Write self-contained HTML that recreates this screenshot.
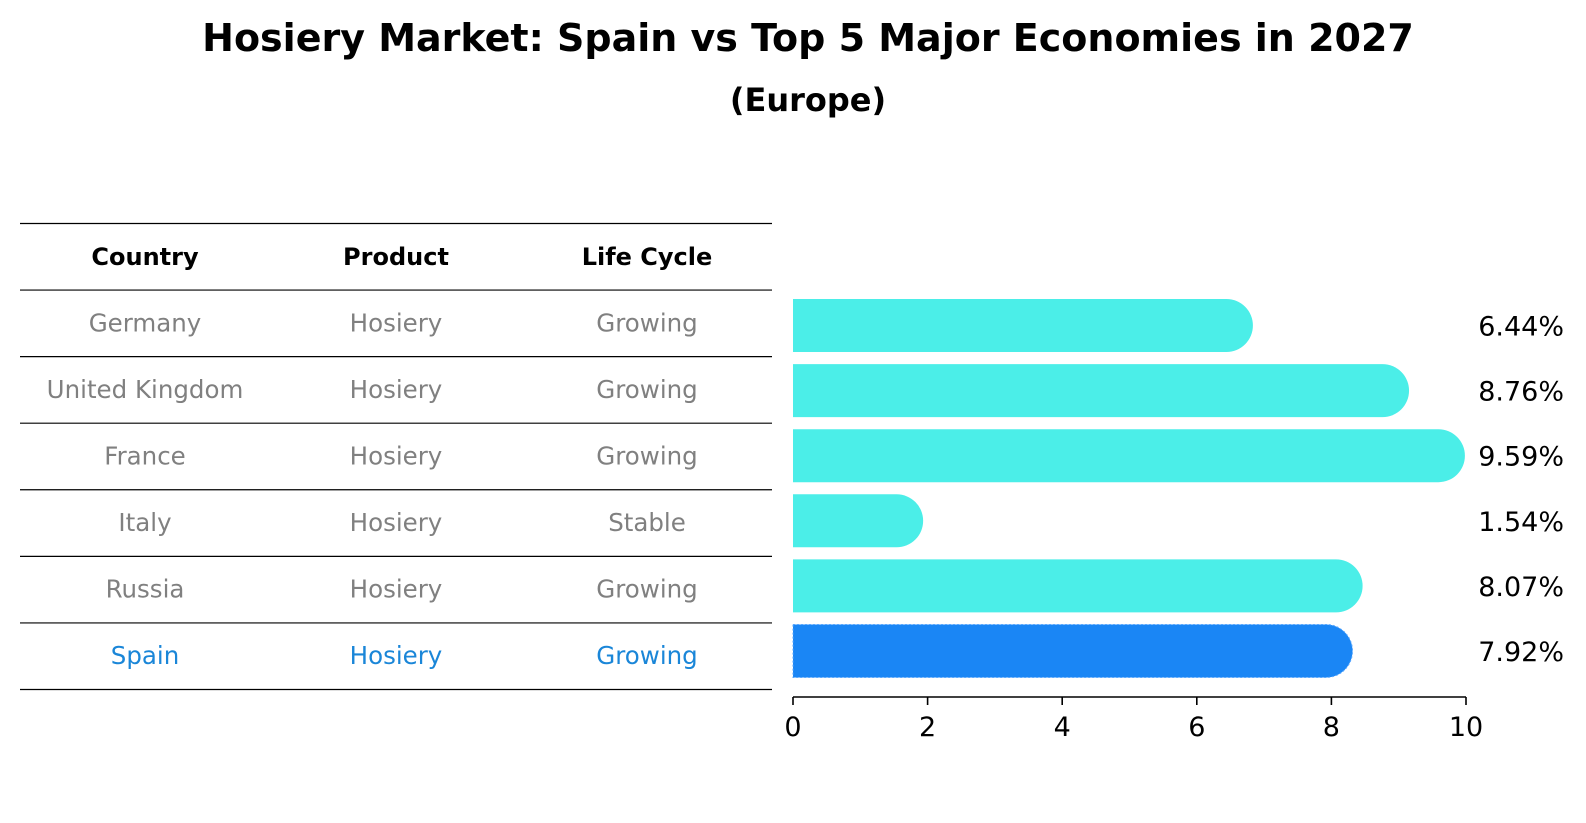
<!DOCTYPE html>
<html><head><meta charset="utf-8"><style>
body{margin:0;background:#fff;width:1586px;height:823px;overflow:hidden;font-family:"DejaVu Sans","Liberation Sans",sans-serif;}
svg{display:block}
</style></head><body>
<svg id="chart" width="1586" height="823" xmlns="http://www.w3.org/2000/svg" font-family="DejaVu Sans, Liberation Sans, sans-serif">
<text x="808" y="51" text-anchor="middle" font-size="38" font-weight="bold">Hosiery Market: Spain vs Top 5 Major Economies in 2027</text>
<text x="808" y="111" text-anchor="middle" font-size="32" font-weight="bold">(Europe)</text>
<g id="table"></g>
<g id="bars"></g>
</svg>
<script>
const countries=["Germany","United Kingdom","France","Italy","Russia","Spain"];
const products=["Hosiery","Hosiery","Hosiery","Hosiery","Hosiery","Hosiery"];
const lifeCycles=["Growing","Growing","Growing","Stable","Growing","Growing"];
const values=[6.44,8.76,9.59,1.54,8.07,7.92];
const valueLabels=["6.44%","8.76%","9.59%","1.54%","8.07%","7.92%"];
const ticks=[0,2,4,6,8,10];
const headers=["Country","Product","Life Cycle"];

const NS="http://www.w3.org/2000/svg";
function mk(tag,attrs,parent,text){const e=document.createElementNS(NS,tag);for(const k in attrs)e.setAttribute(k,attrs[k]);if(text!==undefined)e.textContent=text;parent.appendChild(e);return e;}
const x0=793,x1=1466,xmax=10,axisY=697;
const xs=v=>x0+(x1-x0)*v/xmax;
const rowY=i=>325.5+i*65.1;
const barH=53;

const table=document.getElementById('table');
const colX=[145,396,647];
const lineYs=[];
for(let k=0;k<8;k++)lineYs.push(223.5+k*66.57);
lineYs.forEach(y=>{const l=mk('line',{x1:20,x2:772,y1:y,y2:y,stroke:'#000','stroke-width':1.2},table);

});
headers.forEach((h,j)=>{const t=mk('text',{x:colX[j],y:(lineYs[0]+lineYs[1])/2+8,'text-anchor':'middle','font-size':24,'font-weight':'bold'},table,h);

});
countries.forEach((c,i)=>{
  const y=(lineYs[i+1]+lineYs[i+2])/2+8;
  const col=i===countries.length-1?'#1a86d8':'#808080';
  [c,products[i],lifeCycles[i]].forEach((v,j)=>{
    const t=mk('text',{x:colX[j],y:y,'text-anchor':'middle','font-size':24.5,fill:col},table,v);
    
    
  });
});

const bars=document.getElementById('bars');
values.forEach((v,i)=>{
  const spain=i===values.length-1;
  const yc=rowY(i), r=barH/2, xe=xs(v);
  const d=`M${x0},${yc-r} L${xe},${yc-r} A${r},${r} 0 0 1 ${xe},${yc+r} L${x0},${yc+r} Z`;
  const p=mk('path',{d:d,fill:spain?'#1a86f5':'#4beee8'},bars);
  if(spain){p.setAttribute('stroke','#5aa8ff');p.setAttribute('stroke-dasharray','2,2');p.setAttribute('stroke-width','1');}
  
  
  const t=mk('text',{x:1564,y:yc+10,'text-anchor':'end','font-size':27},bars,valueLabels[i]);
  
  
});
const ax=mk('line',{x1:x0,x2:x1,y1:axisY,y2:axisY,stroke:'#000','stroke-width':1.6},bars);


ticks.forEach(tv=>{
  const l=mk('line',{x1:xs(tv),x2:xs(tv),y1:axisY,y2:axisY+8,stroke:'#000','stroke-width':1.6},bars);
  
  
  const t=mk('text',{x:xs(tv),y:736,'text-anchor':'middle','font-size':27},bars,String(tv));
  
  
});
</script>
</body></html>
